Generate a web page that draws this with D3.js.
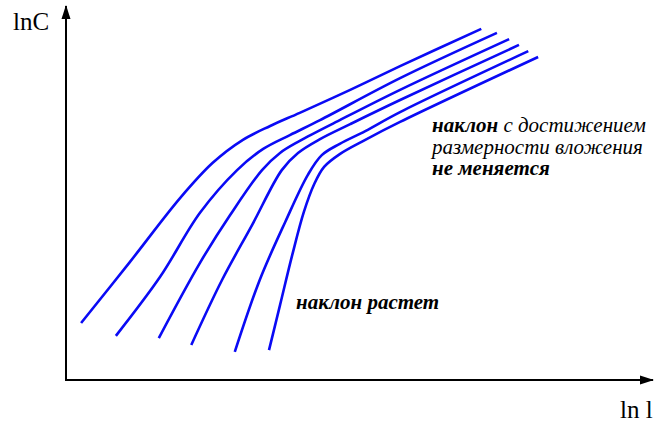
<!DOCTYPE html>
<html>
<head>
<meta charset="utf-8">
<script src="https://cdn.jsdelivr.net/npm/d3@7"></script>
<style>
  html, body { margin: 0; padding: 0; background: #fff; }
  svg { display: block; }
  text { font-family: "Liberation Serif", "Times New Roman", serif; fill: #000; }
</style>
</head>
<body>
<svg id="chart" width="654" height="423"></svg>
<script>
// Correlation integral curves: ln C against ln l for growing embedding dimension
// (arbitrary units, 0..10 on both axes).
const dim1 = [[0.26,1.56],[1.10,3.23],[1.97,4.99],[2.53,5.95],[3.05,6.58],[3.52,6.96],[4.03,7.32],[4.90,7.95],[5.76,8.60],[7.16,9.62]];
const dim2 = [[0.86,1.21],[1.62,2.82],[2.31,4.58],[2.95,5.75],[3.40,6.33],[3.86,6.71],[4.38,7.12],[5.76,8.27],[7.43,9.51]];
const dim3 = [[1.60,1.15],[2.31,3.21],[2.83,4.52],[3.38,5.75],[3.69,6.22],[4.03,6.55],[4.72,7.12],[5.76,7.95],[7.64,9.34]];
const dim4 = [[2.16,0.96],[2.69,2.74],[3.21,4.25],[3.72,5.75],[4.00,6.22],[4.38,6.60],[4.90,7.01],[5.76,7.67],[7.81,9.18]];
const dim5 = [[2.91,0.77],[3.34,2.74],[3.78,4.33],[4.17,5.62],[4.41,6.16],[4.72,6.47],[5.16,6.82],[5.76,7.34],[7.97,9.01]];
const dim6 = [[3.50,0.82],[3.69,2.05],[3.90,3.42],[4.10,4.60],[4.28,5.37],[4.45,5.84],[4.72,6.19],[5.16,6.58],[5.76,7.07],[8.14,8.85]];
const curves = [dim1, dim2, dim3, dim4, dim5, dim6];

const axisLabelY = "lnC";
const axisLabelX = "ln l";
const noteTop = [
  [{t: "наклон", b: true}, {t: " с достижением", b: false}],
  [{t: "размерности вложения", b: false}],
  [{t: "не меняется", b: true}]
];
const noteBottom = "наклон растет";

const svg = d3.select("#chart");

const x = d3.scaleLinear().domain([0, 10]).range([66, 646]);
const y = d3.scaleLinear().domain([0, 10]).range([380, 15]);

// arrowheads
const defs = svg.append("defs");
defs.append("marker")
  .attr("id", "arrow")
  .attr("viewBox", "0 0 14 10")
  .attr("refX", 13).attr("refY", 5)
  .attr("markerWidth", 14).attr("markerHeight", 10)
  .attr("markerUnits", "userSpaceOnUse")
  .attr("orient", "auto")
  .append("path")
  .attr("d", "M0,0.5 L14,5 L0,9.5 Z")
  .attr("fill", "#000");

// axes
svg.append("line")
  .attr("x1", x(0)).attr("y1", y(0))
  .attr("x2", x(0)).attr("y2", 6)
  .attr("stroke", "#000").attr("stroke-width", 2)
  .attr("marker-end", "url(#arrow)");
svg.append("line")
  .attr("x1", x(0) - 1).attr("y1", y(0))
  .attr("x2", 653).attr("y2", y(0))
  .attr("stroke", "#000").attr("stroke-width", 2)
  .attr("marker-end", "url(#arrow)");

// curves
const line = d3.line()
  .x(d => x(d[0]))
  .y(d => y(d[1]))
  .curve(d3.curveCatmullRom.alpha(0.5));

svg.append("g")
  .selectAll("path")
  .data(curves)
  .join("path")
  .attr("d", line)
  .attr("fill", "none")
  .attr("stroke", "#0a0af5")
  .attr("stroke-width", 2.6)
  .attr("stroke-linecap", "butt");

// axis labels
svg.append("text")
  .attr("x", 13).attr("y", 30)
  .attr("font-size", 25)
  .text(axisLabelY);
svg.append("text")
  .attr("x", 620).attr("y", 418)
  .attr("font-size", 25)
  .text(axisLabelX);

// annotations
const note = svg.append("text")
  .attr("font-size", 21)
  .attr("font-style", "italic");
noteTop.forEach((row, i) => {
  row.forEach((part, j) => {
    const ts = note.append("tspan").text(part.t)
      .attr("font-weight", part.b ? "bold" : "normal");
    if (j === 0) ts.attr("x", 432).attr("y", 132 + i * 21.5);
  });
});

svg.append("text")
  .attr("x", 296).attr("y", 309)
  .attr("font-size", 21)
  .attr("font-style", "italic")
  .attr("font-weight", "bold")
  .text(noteBottom);
</script>
</body>
</html>
